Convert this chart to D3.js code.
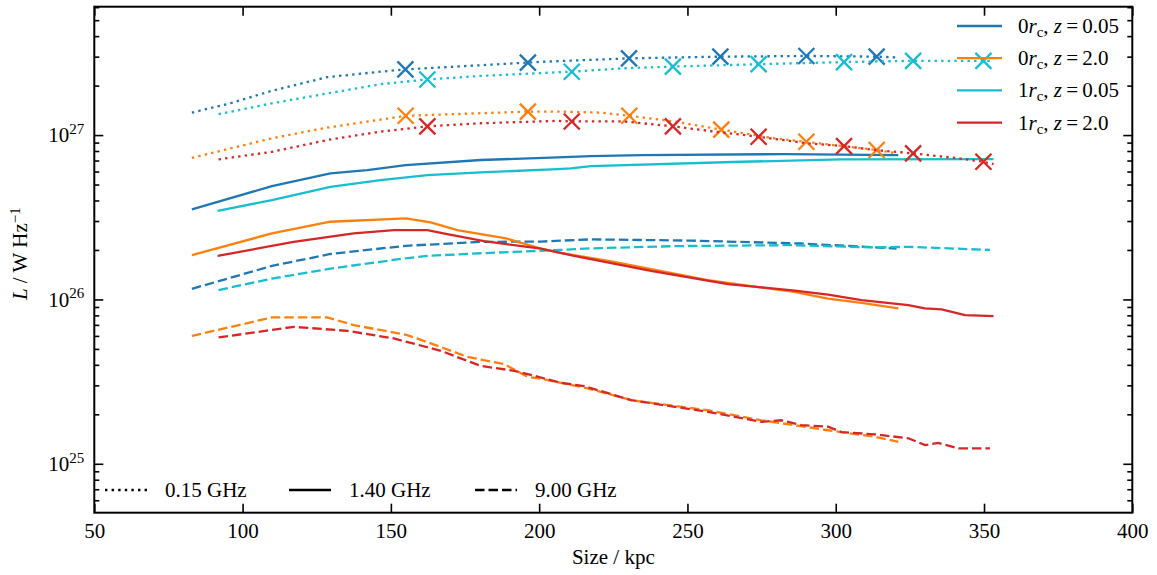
<!DOCTYPE html>
<html>
<head>
<meta charset="utf-8">
<title>Luminosity vs size</title>
<script src="https://d3js.org/d3.v7.min.js"></script>
<style>
  body { margin: 0; background: #fff; }
  svg text { font-family: "Liberation Serif", "DejaVu Serif", serif; fill: #000; }
  .line { fill: none; stroke-width: 2.3px; }
  .tick line { stroke: #000; stroke-width: 1.6px; }
  .domain { display: none; }
</style>
</head>
<body>
<svg width="1157" height="575"></svg>
<script>
// each series: [size / kpc, L / W Hz^-1]
var blue015 = [[82.9,1.37e27],[95.8,1.56e27],[109.9,1.86e27],[128.5,2.25e27],[146.5,2.43e27],[155.0,2.51e27],[196.1,2.76e27],[200.6,2.79e27],[230.4,2.93e27],[261.4,3.00e27],[290.1,3.03e27],[313.8,3.00e27],[320.5,2.97e27]];
var blue140 = [[82.9,3.53e26],[109.9,4.89e26],[129.6,5.85e26],[142.0,6.12e26],[155.0,6.57e26],[180.3,7.05e26],[206.2,7.32e26],[217.5,7.45e26],[234.4,7.56e26],[282.7,7.66e26],[321.1,7.56e26]];
var blue900 = [[82.9,1.16e26],[109.9,1.60e26],[129.6,1.89e26],[155.0,2.12e26],[180.3,2.24e26],[200.6,2.25e26],[217.5,2.32e26],[251.2,2.28e26],[288.4,2.19e26],[320.5,2.04e26]];

var orange015 = [[82.9,7.27e26],[109.9,9.55e26],[128.5,1.11e27],[155.0,1.31e27],[196.2,1.39e27],[206.2,1.39e27],[220.8,1.37e27],[230.4,1.31e27],[245.6,1.21e27],[261.4,1.08e27],[279.4,9.55e26],[290.1,9.10e26],[313.8,8.11e26],[320.5,7.74e26]];
var orange140 = [[82.9,1.86e26],[109.9,2.52e26],[129.6,2.97e26],[155.0,3.11e26],[163.4,2.94e26],[172.4,2.64e26],[188.8,2.35e26],[200.6,2.04e26],[207.3,1.92e26],[225.2,1.69e26],[256.9,1.31e26],[286.0,1.11e26],[297.4,1.01e26],[308.7,9.53e25],[321.1,8.81e25]];
var orange900 = [[82.9,6.00e25],[109.9,7.77e25],[128.5,7.77e25],[137.5,6.98e25],[155.5,6.07e25],[166.8,5.14e25],[175.8,4.47e25],[188.2,4.04e25],[196.1,3.38e25],[200.6,3.30e25],[207.3,3.11e25],[215.2,2.91e25],[231.0,2.44e25],[256.9,2.12e25],[274.9,1.84e25],[297.4,1.60e25],[313.2,1.46e25],[321.1,1.36e25]];

var cyan015 = [[91.9,1.34e27],[109.9,1.56e27],[128.5,1.79e27],[146.5,2.04e27],[162.3,2.18e27],[180.3,2.29e27],[206.2,2.41e27],[211.0,2.43e27],[228.7,2.55e27],[245.1,2.61e27],[274.0,2.70e27],[302.8,2.78e27],[326.1,2.83e27],[349.8,2.83e27],[353.2,2.83e27]];
var cyan140 = [[91.6,3.46e26],[109.9,4.02e26],[129.6,4.84e26],[146.5,5.32e26],[162.3,5.71e26],[180.3,5.93e26],[206.2,6.20e26],[210.7,6.27e26],[217.5,6.48e26],[268.1,6.88e26],[301.9,7.11e26],[353.2,7.14e26]];
var cyan900 = [[91.9,1.14e26],[109.9,1.34e26],[129.6,1.54e26],[155.0,1.78e26],[162.3,1.84e26],[180.3,1.91e26],[207.3,2.00e26],[215.2,2.04e26],[245.6,2.11e26],[285.0,2.14e26],[313.2,2.07e26],[324.5,2.09e26],[352.0,2.00e26]];

var red015 = [[91.9,7.11e26],[109.9,7.91e26],[128.5,9.33e26],[146.5,1.05e27],[162.3,1.13e27],[180.3,1.18e27],[206.2,1.22e27],[211.0,1.21e27],[228.7,1.21e27],[245.1,1.13e27],[259.2,1.05e27],[274.0,9.76e26],[290.7,8.90e26],[302.8,8.57e26],[313.2,8.11e26],[326.1,7.74e26],[341.4,7.22e26],[349.8,6.88e26],[353.2,6.66e26]];
var red140 = [[91.6,1.84e26],[117.2,2.24e26],[137.5,2.52e26],[151.0,2.64e26],[162.3,2.64e26],[169.0,2.50e26],[181.4,2.26e26],[200.6,2.04e26],[211.8,1.84e26],[237.7,1.49e26],[263.6,1.24e26],[286.2,1.13e26],[297.4,1.07e26],[308.7,9.91e25],[324.5,9.23e25],[330.0,8.81e25],[335.7,8.69e25],[343.6,8.02e25],[353.2,7.91e25]];
var red900 = [[91.9,5.87e25],[117.2,6.81e25],[135.3,6.44e25],[151.0,5.79e25],[166.8,4.87e25],[180.3,3.94e25],[191.6,3.68e25],[200.6,3.35e25],[207.3,3.11e25],[215.2,2.97e25],[231.0,2.44e25],[256.9,2.07e25],[274.9,1.80e25],[281.6,1.84e25],[288.4,1.72e25],[297.4,1.68e25],[301.9,1.56e25],[313.2,1.51e25],[324.5,1.43e25],[330.1,1.30e25],[334.6,1.34e25],[341.4,1.24e25],[352.0,1.24e25]];

// X markers on the 0.15 GHz curves
var blueMarks = [[154.9,2.51e27],[196.2,2.76e27],[230.3,2.93e27],[261.1,3.00e27],[290.1,3.03e27],[313.8,3.00e27]];
var orangeMarks = [[155.0,1.31e27],[196.2,1.39e27],[230.4,1.31e27],[261.4,1.08e27],[290.1,9.10e26],[313.8,8.11e26]];
var cyanMarks = [[162.3,2.18e27],[211.0,2.43e27],[245.1,2.61e27],[274.0,2.70e27],[302.8,2.78e27],[326.1,2.83e27],[349.8,2.83e27]];
var redMarks = [[162.3,1.13e27],[211.0,1.21e27],[245.1,1.13e27],[274.0,9.76e26],[302.8,8.57e26],[326.1,7.74e26],[349.8,6.88e26]];

var models = [
  {r: "0", z: "0.05", colour: "#1f77b4", lines: [blue015, blue140, blue900], marks: blueMarks},
  {r: "0", z: "2.0", colour: "#ff7f0e", lines: [orange015, orange140, orange900], marks: orangeMarks},
  {r: "1", z: "0.05", colour: "#17becf", lines: [cyan015, cyan140, cyan900], marks: cyanMarks},
  {r: "1", z: "2.0", colour: "#d62728", lines: [red015, red140, red900], marks: redMarks}
];
var freqLabels = ["0.15 GHz", "1.40 GHz", "9.00 GHz"];
var dashes = ["2.4,4.2", null, "9.5,4"];

var xTicks = [50, 100, 150, 200, 250, 300, 350, 400];
var yTicks = [1e25, 1e26, 1e27];

(function() {
  var svg = d3.select("svg"),
      pl = 94.3, pr = 1132.3, pt = 6.7, pb = 512.7,
      fs = "21px", fsSmall = "15px";

  var x = d3.scaleLinear().domain([50, 400]).range([pl, pr]);
  var y = d3.scaleLog().domain([5.04e24, 6.04e27]).range([pb, pt]);

  var yMinor = [];
  [1e24, 1e25, 1e26, 1e27].forEach(function(p) {
    for (var k = 2; k <= 9; k++) {
      var v = k * p;
      if (v >= y.domain()[0] && v <= y.domain()[1]) yMinor.push(v);
    }
  });

  var line = d3.line()
      .x(function(d) { return x(d[0]); })
      .y(function(d) { return y(d[1]); });

  var plot = svg.append("g");

  models.forEach(function(m) {
    m.lines.forEach(function(data, i) {
      plot.append("path")
          .attr("class", "line")
          .attr("d", line(data))
          .attr("stroke", m.colour)
          .attr("stroke-dasharray", dashes[i]);
    });
    plot.selectAll(null)
      .data(m.marks)
      .enter().append("path")
        .attr("transform", function(d) { return "translate(" + x(d[0]) + "," + y(d[1]) + ")"; })
        .attr("d", "M-8,-8L8,8M-8,8L8,-8")
        .attr("stroke", m.colour)
        .attr("stroke-width", 2.3)
        .attr("fill", "none");
  });

  // axes, ticks inward on all four sides
  svg.append("g")
      .attr("transform", "translate(0," + pb + ")")
      .call(d3.axisBottom(x).tickValues(xTicks).tickSize(-9).tickPadding(10).tickFormat(d3.format("d")))
      .selectAll("text").style("font-size", fs);
  svg.append("g")
      .attr("transform", "translate(0," + pt + ")")
      .call(d3.axisTop(x).tickValues(xTicks).tickSize(-9).tickFormat(""));

  var yl = svg.append("g")
      .attr("transform", "translate(" + pl + ",0)")
      .call(d3.axisLeft(y).tickValues(yTicks).tickSize(-9).tickPadding(10).tickFormat(""));
  yl.selectAll("text").each(function(d) {
    var t = d3.select(this).style("font-size", fs);
    t.append("tspan").text("10");
    t.append("tspan").attr("dy", "-0.55em").style("font-size", fsSmall).text(Math.round(Math.log10(d)));
  });
  svg.append("g")
      .attr("transform", "translate(" + pl + ",0)")
      .call(d3.axisLeft(y).tickValues(yMinor).tickSize(-5).tickFormat(""));
  svg.append("g")
      .attr("transform", "translate(" + pr + ",0)")
      .call(d3.axisRight(y).tickValues(yTicks).tickSize(-9).tickFormat(""));
  svg.append("g")
      .attr("transform", "translate(" + pr + ",0)")
      .call(d3.axisRight(y).tickValues(yMinor).tickSize(-5).tickFormat(""));

  svg.append("rect")
      .attr("x", pl).attr("y", pt)
      .attr("width", pr - pl).attr("height", pb - pt)
      .attr("fill", "none").attr("stroke", "#000").attr("stroke-width", 2);

  // axis labels
  svg.append("text")
      .attr("x", (pl + pr) / 2).attr("y", 564)
      .attr("text-anchor", "middle")
      .style("font-size", fs)
      .text("Size / kpc");

  var ylab = svg.append("text")
      .attr("transform", "translate(27," + ((pt + pb) / 2 - 6) + ") rotate(-90)")
      .attr("text-anchor", "middle")
      .style("font-size", fs);
  ylab.append("tspan").style("font-style", "italic").text("L");
  ylab.append("tspan").text(" / W Hz");
  ylab.append("tspan").attr("dy", "-0.5em").style("font-size", fsSmall).text("\u22121");

  // model legend (upper right)
  var leg = svg.append("g");
  models.forEach(function(m, i) {
    var ry = 26 + i * 32.2;
    leg.append("line")
        .attr("x1", 957).attr("x2", 1002).attr("y1", ry).attr("y2", ry)
        .attr("stroke", m.colour).attr("stroke-width", 2.3);
    var t = leg.append("text").attr("x", 1018).attr("y", ry + 7).style("font-size", fs);
    t.append("tspan").text(m.r);
    t.append("tspan").style("font-style", "italic").text("r");
    t.append("tspan").attr("dy", 4).style("font-size", fsSmall).text("c");
    t.append("tspan").attr("dy", -4).text(", ");
    t.append("tspan").style("font-style", "italic").text("z");
    t.append("tspan").text("\u2009=\u2009" + m.z);
  });

  // frequency legend (lower left)
  var fx = [105, 289, 475];
  freqLabels.forEach(function(lab, i) {
    svg.append("line")
        .attr("x1", fx[i]).attr("x2", fx[i] + 42).attr("y1", 490).attr("y2", 490)
        .attr("stroke", "#000").attr("stroke-width", 2.3)
        .attr("stroke-dasharray", dashes[i]);
    svg.append("text")
        .attr("x", fx[i] + 60).attr("y", 497)
        .style("font-size", fs)
        .text(lab);
  });
})();
</script>
</body>
</html>
